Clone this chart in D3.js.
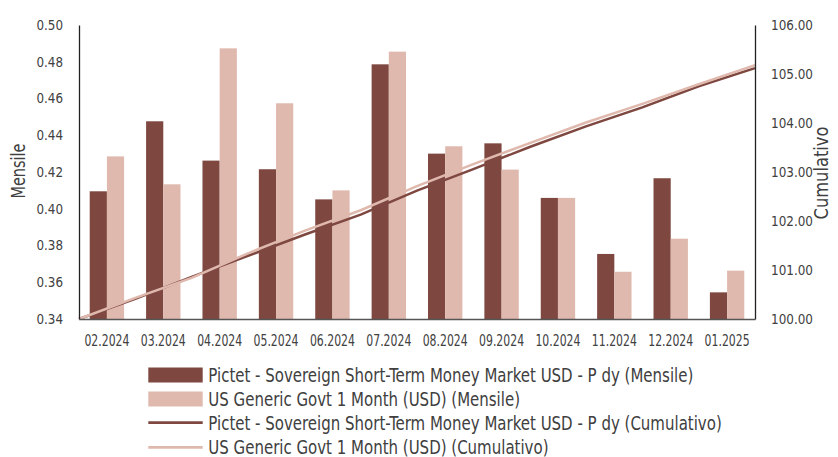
<!DOCTYPE html>
<html><head><meta charset="utf-8">
<script src="https://cdn.jsdelivr.net/npm/d3@7"></script>
<style>
body{margin:0;background:#fff;}
text{font-family:"DejaVu Sans Condensed","Liberation Sans Narrow","Roboto",sans-serif;fill:#404040;}
</style></head>
<body><svg id="c" width="838" height="457"></svg>
<script>
const categories=["02.2024","03.2024","04.2024","05.2024","06.2024","07.2024","08.2024","09.2024","10.2024","11.2024","12.2024","01.2025"];
const fundMonthly=[0.4095,0.4476,0.4262,0.4215,0.4051,0.4786,0.4300,0.4356,0.4059,0.3754,0.4166,0.3545];
const benchMonthly=[0.4285,0.4133,0.4873,0.4574,0.4100,0.4855,0.4340,0.4213,0.4059,0.3657,0.3837,0.3663];
const cumLabels=["01.2024","02.2024","03.2024","04.2024","05.2024","06.2024","07.2024","08.2024","09.2024","10.2024","11.2024","12.2024","01.2025"];
const fundCum=[100,100.41,100.86,101.29,101.72,102.13,102.62,103.06,103.51,103.93,104.32,104.75,105.12];
const benchCum=[100,100.43,100.84,101.34,101.80,102.22,102.71,103.16,103.59,104.01,104.39,104.79,105.18];
const leftTicks=[0.34,0.36,0.38,0.40,0.42,0.44,0.46,0.48,0.50];
const rightTicks=[100,101,102,103,104,105,106];
const seriesNames=["Pictet - Sovereign Short-Term Money Market USD - P dy (Mensile)","US Generic Govt 1 Month (USD) (Mensile)","Pictet - Sovereign Short-Term Money Market USD - P dy (Cumulativo)","US Generic Govt 1 Month (USD) (Cumulativo)"];

const dark="#7e4840", pink="#e0b9ae";
const svg=d3.select("#c");
const L=79,R=755,T=25,B=319;
const x=d3.scaleBand().domain(categories).range([L,R]).paddingInner(0.39).paddingOuter(0.19);
const xs=d3.scaleBand().domain([0,1]).range([0,x.bandwidth()]);
const yL=d3.scaleLinear().domain([0.34,0.50]).range([B,T]);
const yR=d3.scaleLinear().domain([100,106]).range([B,T]);
const xl=d3.scalePoint().domain(cumLabels).range([L,R]);

// compress text horizontally so the first element matches a target width
function fit(sel,target){
  const n=sel.node(); if(!n) return;
  const k=target/n.getComputedTextLength();
  sel.each(function(){const w=this.getComputedTextLength();d3.select(this).attr("textLength",w*k).attr("lengthAdjust","spacingAndGlyphs");});
}

const g=svg.append("g");
const data=categories.map((c,i)=>({c,v:[fundMonthly[i],benchMonthly[i]]}));
g.selectAll("g.cat").data(data).join("g").attr("class","cat").attr("transform",d=>`translate(${x(d.c)},0)`)
 .selectAll("rect").data(d=>d.v).join("rect")
 .attr("x",(d,i)=>xs(i)).attr("width",xs.bandwidth()).attr("y",d=>yL(d)).attr("height",d=>B-yL(d))
 .attr("fill",(d,i)=>i?pink:dark);

const line=d3.line().x((d,i)=>xl(cumLabels[i])).y(d=>yR(d));
g.append("path").datum(fundCum).attr("d",line).attr("fill","none").attr("stroke",dark).attr("stroke-width",2.5);
g.append("path").datum(benchCum).attr("d",line).attr("fill","none").attr("stroke",pink).attr("stroke-width",2.5);

// axes
const ax=svg.append("g").attr("transform",`translate(${L},0)`).call(d3.axisLeft(yL).tickValues(leftTicks).tickFormat(d3.format(".2f")).tickSize(0).tickPadding(16));
ax.select(".domain").attr("stroke","#222").attr("stroke-width",1.3);
ax.selectAll("text").style("font-size","14px").attr("fill","#404040");
fit(ax.selectAll("text"),26.6);
const ar=svg.append("g").attr("transform",`translate(${R},0)`).call(d3.axisRight(yR).tickValues(rightTicks).tickFormat(d3.format(".2f")).tickSize(0).tickPadding(16));
ar.select(".domain").attr("stroke","#222").attr("stroke-width",1.3);
ar.selectAll("text").style("font-size","14px").attr("fill","#404040");
fit(ar.selectAll("text"),42);
const axb=svg.append("g").attr("transform",`translate(0,${B})`).call(d3.axisBottom(x).tickSize(0).tickPadding(16));
axb.select(".domain").attr("stroke","#555").attr("stroke-width",1.3);
axb.selectAll("text").style("font-size","15px").attr("fill","#404040");
fit(axb.selectAll("text"),45);

const t1=svg.append("text").attr("transform","translate(25,171) rotate(-90)").attr("text-anchor","middle").style("font-size","19px").text("Mensile");
fit(t1,55);
const t2=svg.append("text").attr("transform","translate(828,173) rotate(-90)").attr("text-anchor","middle").style("font-size","19px").text("Cumulativo");
fit(t2,93);

// legend
const lg=svg.append("g");
const rows=[375,399,422.7,447.3];
seriesNames.forEach((n,i)=>{
  const y=rows[i];
  if(i<2){lg.append("rect").attr("x",148.3).attr("y",y-7.5).attr("width",54.4).attr("height",15).attr("fill",i?pink:dark);}
  else{lg.append("line").attr("x1",148.3).attr("x2",202.7).attr("y1",y).attr("y2",y).attr("stroke",i===2?dark:pink).attr("stroke-width",2.8);}
  lg.append("text").attr("class","lt").attr("x",208.3).attr("y",y).attr("dy","0.36em").style("font-size","19px").text(n);
});
fit(lg.selectAll("text.lt"),485);
</script></body></html>
